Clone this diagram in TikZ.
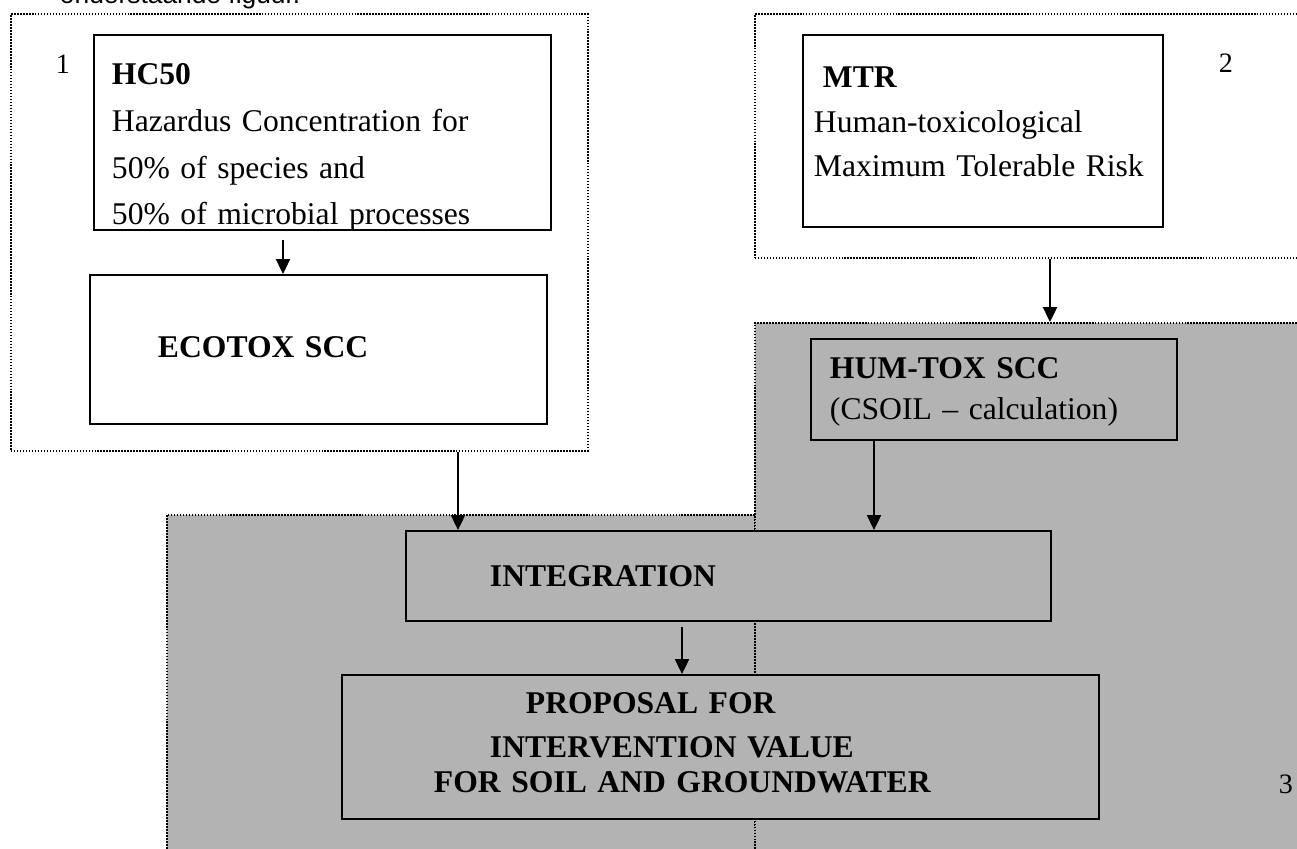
\documentclass[tikz,border=0pt]{standalone}
\usepackage{fontspec}
\setmainfont{Liberation Serif}
\newfontfamily\arialfont{Liberation Sans}
\usetikzlibrary{arrows.meta,calc}
\definecolor{grijs}{RGB}{179,179,179}

\begin{document}
\begin{tikzpicture}[x=0.02cm, y=-0.02cm, line width=1.1pt,
	main node/.style={draw, rectangle, anchor=north west, inner sep=0pt},
	group node/.style={draw, rectangle, anchor=north west, inner sep=0pt, line width=1pt, dash pattern=on 0.9pt off 0.8pt},
	text node/.style={anchor=base west, inner sep=0pt, align=left, font=\fontsize{18}{26.5}\selectfont},
	link/.style={-{Triangle[width=8pt,length=8.5pt]}, line width=1.1pt}]
	\useasboundingbox (0,0) rectangle (1297,848);
	% dotted groups
	\node[group node, minimum width=11.54cm, minimum height=8.74cm] (group1) at (10,13) {};
	\node[group node, minimum width=11.32cm, minimum height=4.88cm] (group2) at (754,13) {};
	\node[group node, fill=grijs, minimum width=11.76cm, minimum height=7.12cm] (group3b) at (166,514) {};
	\node[group node, fill=grijs, minimum width=11.32cm, minimum height=10.96cm] (group3) at (754,322) {};
	% boxes
	\node[main node, fill=white, minimum width=9.14cm, minimum height=3.9cm] (hc50) at (93,34) {};
	\node[main node, fill=white, minimum width=9.14cm, minimum height=2.98cm] (ecotox) at (89,274) {};
	\node[main node, fill=white, minimum width=7.2cm, minimum height=3.84cm] (mtr) at (802,34) {};
	\node[main node, fill=grijs, minimum width=7.32cm, minimum height=2.02cm] (humtox) at (810,338) {};
	\node[main node, fill=grijs, minimum width=12.9cm, minimum height=1.8cm] (integration) at (405,530) {};
	\node[main node, fill=grijs, minimum width=15.14cm, minimum height=2.88cm] (proposal) at (341,674) {};
	% texts
	\node[text node, font=\arialfont\fontsize{15}{18}\selectfont] (caption) at (59,4) {onderstaande figuur.};
	\node[text node, text width=8.6cm] (hc50 text) at (111,85) {\textbf{HC50}\\Hazardus Concentration for\\50\% of species and\\50\% of microbial processes};
	\node[text node, text width=5cm] (ecotox text) at (157,357) {\textbf{ECOTOX SCC}};
	\node[text node, text width=7cm, font=\fontsize{18}{25.2}\selectfont] (mtr text) at (813,88) {\hspace*{0.18cm}\textbf{MTR}\\Human-toxicological\\Maximum Tolerable Risk};
	\node[text node, text width=7cm, font=\fontsize{18}{23.8}\selectfont] (humtox text) at (829,378) {\textbf{HUM-TOX SCC}\\(CSOIL – calculation)};
	\node[text node, text width=5cm] (integration text) at (489,586) {\textbf{INTEGRATION}};
	\node[text node, text width=11cm, font=\fontsize{18}{25.5}\selectfont\bfseries] (proposal text) at (433,713) {\hspace*{1.84cm}PROPOSAL FOR\\\hspace*{1.12cm}INTERVENTION VALUE\\[-0.2cm]FOR SOIL AND GROUNDWATER};
	\node[text node, font=\fontsize{16}{19}\selectfont] (nr1) at (55,73) {1};
	\node[text node, font=\fontsize{16}{19}\selectfont] (nr2) at (1218,72) {2};
	\node[text node, font=\fontsize{16}{19}\selectfont] (nr3) at (1278,793) {3};
	% arrows
	\path[link]
		($(hc50.south west)+(190,0)$) edge[shorten <=5pt] ($(ecotox.north west)+(194,0)$)
		($(group1.south west)+(448,0)$) edge ($(integration.north west)+(53,0)$)
		($(group2.south west)+(296,0)$) edge ($(group3.north west)+(296,0)$)
		($(humtox.south west)+(64,0)$) edge ($(integration.north west)+(469,0)$)
		($(integration.south west)+(277,0)$) edge[shorten <=3pt] ($(proposal.north west)+(341,0)$);
\end{tikzpicture}
\end{document}
